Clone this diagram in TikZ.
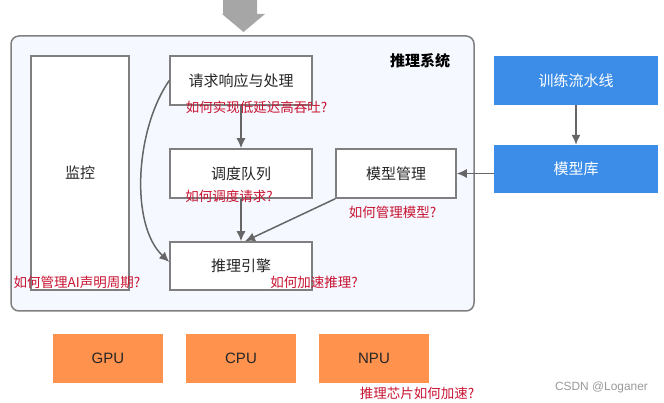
\documentclass[tikz,border=0pt]{standalone}
\usepackage{fontspec}
\setmainfont{Liberation Sans}
\newfontfamily\cjk{Noto Sans CJK SC}
\usetikzlibrary{arrows.meta}
\definecolor{boxline}{HTML}{7F7F7F}
\definecolor{linkgray}{HTML}{666666}
\definecolor{sysbg}{HTML}{F5F8FE}
\definecolor{trainblue}{HTML}{3C8DE8}
\definecolor{chiporange}{HTML}{FF924D}
\definecolor{askred}{HTML}{C81432}
\definecolor{bigarrow}{HTML}{A6A6A6}

\begin{document}
\begin{tikzpicture}[x=1pt,y=1pt,>={Latex[length=10pt,width=9pt]},
  box/.style={draw=boxline,line width=1.5pt,fill=white,inner sep=0pt,text=black!85,
    font=\cjk\fontsize{15}{18}\selectfont},
  bluebox/.style={fill=trainblue,inner sep=0pt,minimum width=164pt,minimum height=49pt,
    text=white,font=\cjk\fontsize{15}{18}\selectfont},
  chip/.style={fill=chiporange,inner sep=0pt,minimum width=110pt,minimum height=49pt,
    text=black!85,font=\fontsize{15}{18}\selectfont},
  ask/.style={text=askred,inner sep=0pt,font=\cjk\fontsize{13.5}{16}\selectfont},
  link/.style={draw=linkgray,line width=1.5pt,->}]
 \useasboundingbox (0,0) rectangle (664,-403);
 % incoming requests
 \fill[bigarrow] (223,0) -- (257,0) -- (257,-14) -- (265,-14) -- (243.5,-32) -- (222,-14) -- (223,-14) -- cycle;
 % the system frame
 \node[draw=boxline,line width=1.5pt,fill=sysbg,rounded corners=8pt,
   minimum width=463pt,minimum height=275pt] (system) at (242.5,-173.5) {};
 \node[font=\cjk\bfseries\fontsize{15}{18}\selectfont] (systitle) at (420,-61) {推理系统};
 \node[box,minimum width=98pt,minimum height=234pt] (monitor) at (80,-173) {监控};
 \node[box,minimum width=142pt,minimum height=49pt] (request) at (241,-80.5) {请求响应与处理};
 \node[box,minimum width=142pt,minimum height=49pt] (queue) at (241,-173.5) {调度队列};
 \node[box,minimum width=120pt,minimum height=49pt] (modelmgr) at (396,-173.5) {模型管理};
 \node[box,minimum width=142pt,minimum height=48pt] (engine) at (241,-266) {推理引擎};
 % training side
 \node[bluebox] (pipeline) at (576,-80.5) {训练流水线};
 \node[bluebox,minimum height=48pt] (modelrepo) at (576,-169) {模型库};
 % chips
 \node[chip] (gpu) at (108,-358.5) {GPU};
 \node[chip] (cpu) at (241,-358.5) {CPU};
 \node[chip] (npu) at (374,-358.5) {NPU};
 % questions
 \node[ask] (latq) at (256.5,-107) {如何实现低延迟高吞吐?};
 \node[ask] (queueq) at (229,-196) {如何调度请求?};
 \node[ask] (modelq) at (392.5,-212) {如何管理模型?};
 \node[ask] (engineq) at (314,-282) {如何加速推理?};
 \node[ask] (lifeq) at (77,-282) {如何管理AI声明周期?};
 \node[ask] (chipq) at (417,-393) {推理芯片如何加速?};
 \node[text=black!40,inner sep=0pt,font=\fontsize{11.9}{14}\selectfont] (mark) at (601.5,-387) {CSDN @Loganer};
 % connectors
 \draw[link] (request.south) -- (queue.north);
 \draw[link] (queue.south) -- (engine.north);
 \draw[link] (modelmgr.south west) -- ([xshift=4pt]engine.north);
 \draw[link] (request.west) .. controls (135,-130) and (130,-225) .. ([yshift=4pt]engine.west);
 \draw[link] (pipeline.south) -- (modelrepo.north);
 \draw[link] (modelrepo.west |- modelmgr.east) -- (modelmgr.east);
\end{tikzpicture}
\end{document}
